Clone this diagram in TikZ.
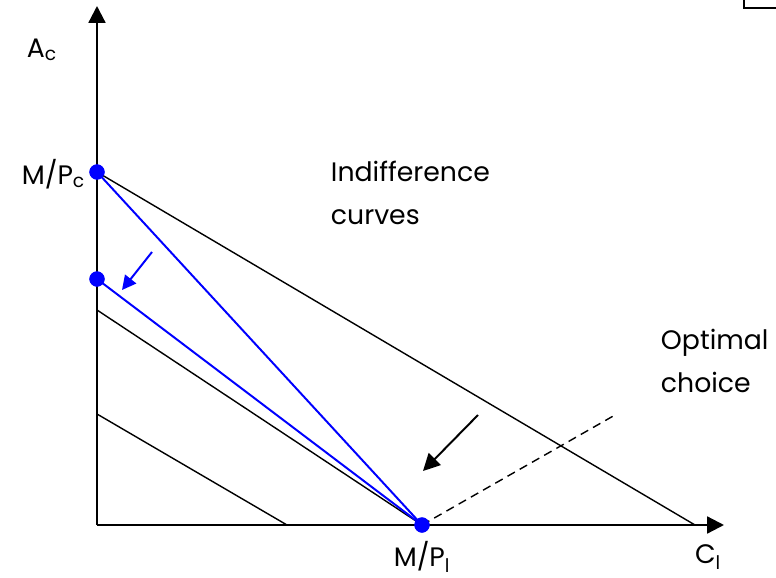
\documentclass[tikz,border=0pt]{standalone}
\usepackage{fontspec}
\setmainfont{Poppins}
\usetikzlibrary{arrows.meta, positioning}

\begin{document}
\begin{tikzpicture}[x=0.025cm, y=-0.025cm, font=\fontsize{19}{30.5}\selectfont,
    axis/.style={line width=1.6pt, -{Triangle[width=12pt,length=12pt]}},
    budget/.style={line width=1pt},
    newbudget/.style={blue, line width=1.4pt},
    dot/.style={circle, fill=blue, inner sep=0pt, minimum size=0.38cm},
    shiftarrow/.style={line width=1.4pt, -{Triangle[width=12pt,length=12pt]}}]
    \useasboundingbox (0,0) rectangle (776,578);
    % axes
    \coordinate (O) at (97,525);
    \coordinate (ytop) at (97,6);
    \coordinate (xend) at (724,525);
    \draw[axis] (O) -- (ytop);
    \draw[axis] (O) -- (xend);
    % budget lines
    \node[dot] (Pc) at (97,172) {};
    \node[dot] (Pc2) at (97,279) {};
    \node[dot] (Pl) at (422,525) {};
    \coordinate (a1) at (695,525);
    \coordinate (b1) at (97,310);
    \coordinate (c1) at (97,414);
    \coordinate (c2) at (287,525);
    \coordinate (opt) at (615,415);
    \draw[budget] (Pc.center) -- (a1);
    \draw[budget] (b1) -- (Pl.center);
    \draw[budget] (c1) -- (c2);
    \draw[newbudget] (Pc.center) -- (Pl.center);
    \draw[newbudget] (Pc2.center) -- (Pl.center);
    \draw[budget, dashed, dash pattern=on 6pt off 4pt] (Pl.center) -- (opt);
    \node[dot] at (Pc) {};
    \node[dot] at (Pc2) {};
    \node[dot] at (Pl) {};
    % shifts
    \coordinate (s1) at (478,415);
    \coordinate (s2) at (423,471);
    \coordinate (t1) at (152,252);
    \coordinate (t2) at (122,290);
    \draw[shiftarrow] (s1) -- (s2);
    \draw[shiftarrow, blue, -{Triangle[width=10pt,length=10pt]}] (t1) -- (t2);
    % labels
    \node (Ac) at (42,50) {A\textsubscript{c}};
    \node[anchor=east] (MPc) at (90,174) {M/P\textsubscript{c}};
    \node (MPl) at (422,557) {M/P\textsubscript{l}};
    \node (Cl) at (708,557) {C\textsubscript{l}};
    \node[anchor=north west, align=left] (ind) at (326,156) {Indifference\\curves};
    \node[anchor=north west, align=left] (optc) at (656,324) {Optimal\\choice};
    % corner of box
    \draw[line width=1pt] (744,0) -- (744,8) -- (776,8);
\end{tikzpicture}
\end{document}
